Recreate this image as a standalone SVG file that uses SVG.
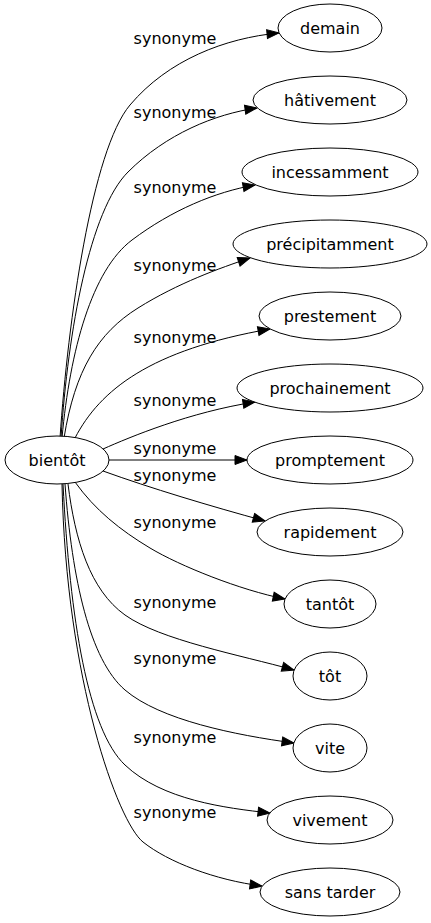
<svg xmlns="http://www.w3.org/2000/svg" width="431" height="923" viewBox="0 0 431 923">
<style>
text{font-family:"DejaVu Sans",sans-serif;font-size:16px;fill:#000;text-anchor:middle}
.n ellipse{fill:#fff;stroke:#000;stroke-width:1}
.e path{fill:none;stroke:#000;stroke-width:1;marker-end:url(#ah)}
</style>
<defs>
<marker id="ah" markerUnits="userSpaceOnUse" markerWidth="14" markerHeight="12" viewBox="0 0 14 12" refX="13" refY="6" orient="auto">
<path d="M1,1.5 L13,6 L1,10.5 Z" fill="#000" stroke="#000" stroke-width="1"/>
</marker>
</defs>
<rect width="431" height="923" fill="#fff"/>
<g id="edges" class="e">
<path d="M60,438 C68,320 92,150 130,105 S225,38 279,33"/>
<path d="M61,438 C68,330 90,210 128,172 S215,114 257,108"/>
<path d="M62,438 C70,350 92,270 132,240 S215,192 255,185"/>
<path d="M64,438 C75,370 98,333 138,308 S220,268 250,258"/>
<path d="M75,438 C100,390 150,350 270,329"/>
<path d="M103,449 C130,437 190,412 255,402"/>
<path d="M109,460 L247,460"/>
<path d="M103,471 C150,488 210,506 265,521"/>
<path d="M75,482 C95,510 120,530 150,548 S240,590 285,599"/>
<path d="M68,484 C75,540 90,590 125,615 S240,655 294,670"/>
<path d="M65,484 C72,580 90,660 125,690 S235,735 294,743"/>
<path d="M63,484 C70,620 88,730 125,765 S225,808 270,813"/>
<path d="M62,484 C66,680 118,822 143,842 S215,880 262,886"/>
</g>
<g id="edge-labels">
<text x="175" y="44">synonyme</text>
<text x="175" y="118">synonyme</text>
<text x="175" y="193">synonyme</text>
<text x="175" y="271">synonyme</text>
<text x="175" y="343">synonyme</text>
<text x="175" y="406">synonyme</text>
<text x="175" y="454">synonyme</text>
<text x="175" y="481">synonyme</text>
<text x="175" y="528">synonyme</text>
<text x="175" y="608">synonyme</text>
<text x="175" y="664">synonyme</text>
<text x="175" y="743">synonyme</text>
<text x="175" y="818">synonyme</text>
</g>
<g id="bientot" class="n"><ellipse cx="57" cy="460" rx="52" ry="24"/><text x="57" y="466">bientôt</text></g>
<g id="demain" class="n"><ellipse cx="330" cy="28" rx="52" ry="24"/><text x="330" y="34">demain</text></g>
<g id="hativement" class="n"><ellipse cx="330" cy="100" rx="77" ry="24"/><text x="330" y="106">hâtivement</text></g>
<g id="incessamment" class="n"><ellipse cx="330" cy="172" rx="88" ry="24"/><text x="330" y="178">incessamment</text></g>
<g id="precipitamment" class="n"><ellipse cx="330" cy="244" rx="97" ry="24"/><text x="330" y="250">précipitamment</text></g>
<g id="prestement" class="n"><ellipse cx="330" cy="316" rx="71" ry="24"/><text x="330" y="322">prestement</text></g>
<g id="prochainement" class="n"><ellipse cx="330" cy="388" rx="93" ry="24"/><text x="330" y="394">prochainement</text></g>
<g id="promptement" class="n"><ellipse cx="330" cy="460" rx="83" ry="24"/><text x="330" y="466">promptement</text></g>
<g id="rapidement" class="n"><ellipse cx="330" cy="532" rx="73" ry="24"/><text x="330" y="538">rapidement</text></g>
<g id="tantot" class="n"><ellipse cx="330" cy="604" rx="46" ry="24"/><text x="330" y="610">tantôt</text></g>
<g id="tot" class="n"><ellipse cx="330" cy="676" rx="37" ry="24"/><text x="330" y="682">tôt</text></g>
<g id="vite" class="n"><ellipse cx="330" cy="748" rx="37" ry="24"/><text x="330" y="754">vite</text></g>
<g id="vivement" class="n"><ellipse cx="330" cy="820" rx="63" ry="24"/><text x="330" y="826">vivement</text></g>
<g id="sans-tarder" class="n"><ellipse cx="330" cy="892" rx="70" ry="24"/><text x="330" y="898">sans tarder</text></g>
</svg>
